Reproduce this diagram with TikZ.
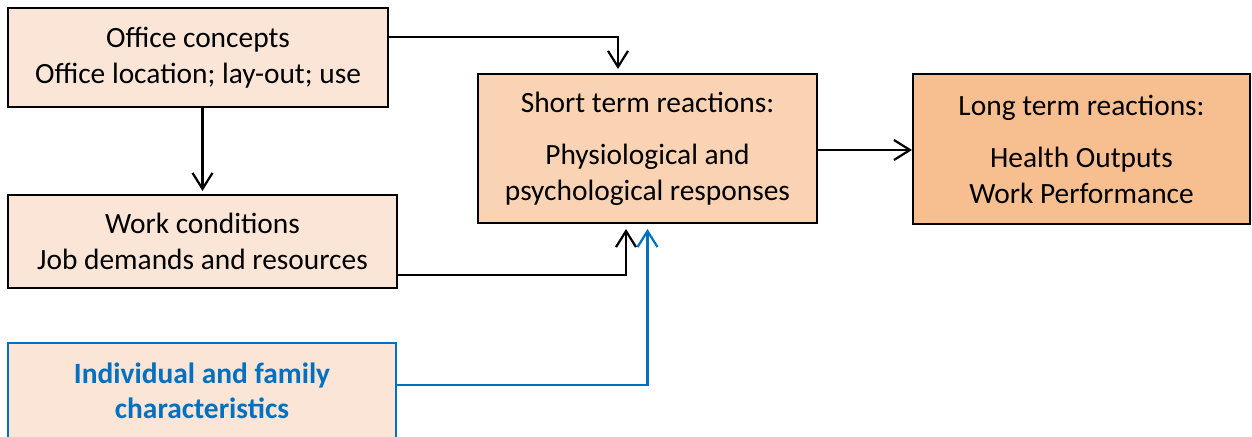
\documentclass[tikz,border=0pt]{standalone}
\usepackage{fontspec}
\setmainfont{Carlito}
\usetikzlibrary{arrows.meta}
\definecolor{light}{HTML}{FBE5D6}
\definecolor{mid}{HTML}{F9D3B3}
\definecolor{dark}{HTML}{F7BF90}
\definecolor{blu}{HTML}{0070C0}
\tikzset{
  box/.style={draw=black, line width=1pt, rectangle, inner sep=0pt, align=center,
    font=\fontsize{14.7}{18}\selectfont},
  arr/.style={draw=black, line width=1.1pt, -{Straight Barb[length=8pt,width=10pt,line width=1.1pt]}},
}
\begin{document}
\begin{tikzpicture}[x=0.5pt,y=-0.5pt]
\useasboundingbox (0,0) rectangle (1252,437);
\node[box, fill=light, minimum width=190pt, minimum height=49.5pt] (b1) at (198,57.5)
  {Office concepts\\Office location; lay-out; use};
\node[box, fill=light, minimum width=194.5pt, minimum height=46.5pt] (b2) at (202.5,241.5)
  {Work conditions\\Job demands and resources};
\node[box, fill=light, draw=blu, line width=0.8pt, text=blu, minimum width=194pt, minimum height=47.5pt,
  font=\fontsize{14.7}{17.5}\selectfont\bfseries] (b3) at (202,390.5)
  {Individual and family\\characteristics};
\node[box, fill=mid, minimum width=169.5pt, minimum height=74.5pt] (b4) at (647.5,148.5)
  {Short term reactions:\\[8pt]Physiological and\\psychological responses};
\node[box, fill=dark, minimum width=168.5pt, minimum height=75pt] (b5) at (1081.5,149)
  {Long term reactions:\\[8pt]Health Outputs\\Work Performance};
\draw[arr, shorten >=2pt] (b1.east |- 0,37) -| (618,0 |- b4.north);
\draw[arr, shorten >=1.5pt] (b1.south -| b2.north) -- (b2.north);
\draw[arr, shorten >=2.5pt] (b2.east |- 0,275) -| (626,0 |- b4.south);
\draw[arr, draw=blu, shorten >=2.5pt] (b3.east |- 0,385) -| (b4.south);
\draw[arr] (b4.east |- 0,150) -- (b5.west |- 0,150);
\end{tikzpicture}
\end{document}
